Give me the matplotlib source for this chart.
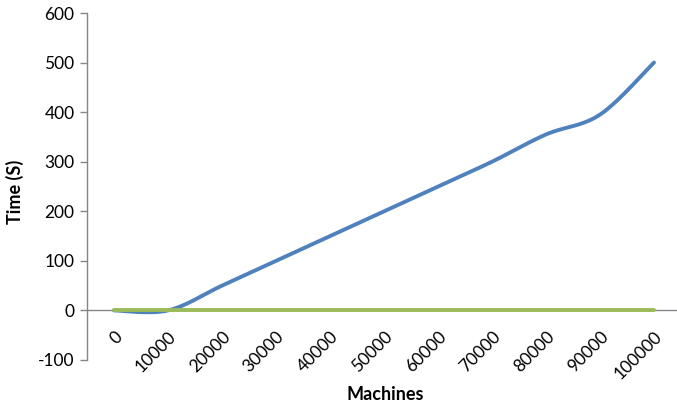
import numpy as np
import matplotlib
matplotlib.use("Agg")
import matplotlib.pyplot as plt

machines = ["0", "10000", "20000", "30000", "40000", "50000",
            "60000", "70000", "80000", "90000", "100000"]
time_blue = [0, 0, 50, 100, 150, 200, 250, 300, 355, 395, 500]
time_green = [0, 0, 0, 0, 0, 0, 0, 0, 0, 0, 0]
y_ticks = [-100, 0, 100, 200, 300, 400, 500, 600]

BLUE = "#4F81BD"
GREEN = "#9BBB59"
AXIS = "#868686"

plt.rcParams["font.family"] = ["Lato", "DejaVu Sans"]


def smooth(xs, ys, n=40):
    """Cubic Bezier smoothing through every point (Catmull-Rom style)."""
    pts = np.column_stack([xs, ys]).astype(float)
    out = []
    m = len(pts)
    for i in range(m - 1):
        p0 = pts[i - 1] if i > 0 else pts[i]
        p1 = pts[i]
        p2 = pts[i + 1]
        p3 = pts[i + 2] if i + 2 < m else pts[i + 1]
        c1 = p1 + (p2 - p0) / 6.0
        c2 = p2 - (p3 - p1) / 6.0
        t = np.linspace(0, 1, n)[:, None]
        seg = ((1 - t) ** 3) * p1 + 3 * ((1 - t) ** 2) * t * c1 \
            + 3 * (1 - t) * t ** 2 * c2 + t ** 3 * p2
        out.append(seg if i == 0 else seg[1:])
    seg = np.vstack(out)
    return seg[:, 0], seg[:, 1]


W, H = 677, 408
fig = plt.figure(figsize=(W / 100, H / 100), dpi=100)
ax = fig.add_axes([87 / W, (H - 360) / H, 594 / W, 347 / H])

# category axis crosses the value axis at zero
ax.spines["bottom"].set_position(("data", 0))
ax.spines["bottom"].set_color(AXIS)
ax.spines["bottom"].set_linewidth(1.0)
ax.spines["bottom"].set_zorder(1)
for s in ("top", "right"):
    ax.spines[s].set_visible(False)
ax.spines["left"].set_color(AXIS)
ax.spines["left"].set_linewidth(1.0)

x = np.arange(len(machines))
bx, by = smooth(x, time_blue)
gx, gy = smooth(x, time_green)

ax.plot(bx, by, color=BLUE, lw=2.8, solid_capstyle="round", zorder=3)
ax.plot(gx, gy, color=GREEN, lw=2.8, solid_capstyle="round", zorder=4)

ax.set_xlim(-0.5, len(machines) - 0.5)
ax.set_ylim(-100, 600)
ax.set_yticks(y_ticks)
ax.set_yticklabels([str(v) for v in y_ticks], fontsize=12.5)
ax.set_xticks(x)
ax.set_xticklabels(machines, rotation=45, ha="right", va="top",
                   rotation_mode="anchor", fontsize=12.5)
ax.tick_params(axis="x", length=0, pad=13)
ax.tick_params(axis="y", length=5, width=1, color=AXIS, pad=4)

fig.text(385 / W, (H - 394) / H, "Machines", fontsize=13, fontweight="bold",
         ha="center", va="center")
fig.text(15 / W, (H - 192) / H, "Time (S)", fontsize=13, fontweight="bold",
         ha="center", va="center", rotation=90)

fig.savefig("out.png", dpi=100)
